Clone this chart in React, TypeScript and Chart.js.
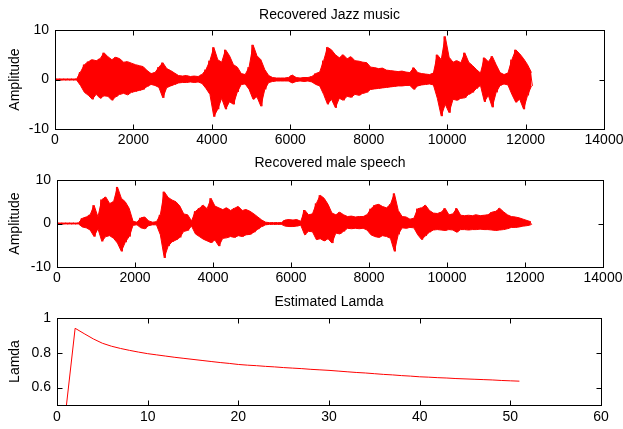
import React, { useEffect, useRef } from "react";
import { Chart, registerables } from "chart.js";

Chart.register(...registerables);

// ---- data ----
// waveforms: per 100-sample bin, the max and min amplitude
const BIN = 100;

const jazzMax = [
  0.1, 0.1, 0.1, 0.1, 0.1, 0.1, 1.5, 3.0, 3.6, 4.0,
  3.8, 4.2, 5.4, 4.6, 4.0, 4.5, 4.2, 3.5, 3.6, 3.3,
  3.0, 2.8, 2.6, 1.8, 1.2, 1.4, 2.5, 3.4, 2.2, 1.8,
  1.3, 0.8, 0.7, 0.8, 0.6, 0.7, 0.6, 1.0, 2.0, 3.8,
  6.5, 4.0, 3.5, 6.0, 4.8, 3.0, 2.5, 1.2, 1.0, 2.5,
  7.0, 4.8, 4.0, 2.0, 0.8, 0.4, 0.3, 0.3, 0.3, 0.4,
  0.9, 0.4, 0.3, 0.4, 0.4, 0.6, 1.2, 1.5, 3.8, 6.5,
  6.0, 5.0, 4.4, 5.0, 4.2, 4.6, 3.8, 3.7, 3.5, 3.4,
  2.5, 2.4, 2.2, 2.3, 1.9, 1.8, 1.7, 1.6, 1.7, 1.5,
  1.4, 2.4, 1.4, 1.2, 1.1, 1.0, 1.3, 5.0, 4.0, 8.7,
  4.5, 3.5, 3.8, 3.4, 5.4, 3.5, 2.8, 2.0, 1.3, 4.4,
  3.6, 4.7, 3.0, 1.4, 1.0, 1.3, 4.0, 6.0, 5.2, 4.2,
  3.0, 1.4,
];
const jazzMin = [
  -0.1, -0.1, -0.1, -0.1, -0.1, -0.1, -1.2, -2.6, -3.2, -4.0,
  -3.0, -3.8, -3.3, -3.4, -4.2, -3.5, -3.0, -2.8, -3.1, -2.6,
  -2.4, -2.2, -2.0, -1.4, -1.0, -1.2, -1.6, -3.7, -1.6, -1.3,
  -1.0, -0.7, -0.6, -0.6, -0.5, -0.6, -0.5, -0.8, -1.8, -3.0,
  -7.5, -6.0, -3.8, -6.0, -4.5, -5.0, -2.5, -1.0, -0.9, -2.0,
  -4.0, -3.5, -5.4, -2.0, -0.6, -0.4, -0.3, -0.3, -0.3, -0.3,
  -0.7, -0.4, -0.3, -0.4, -0.3, -0.5, -1.0, -1.3, -3.0, -5.0,
  -4.0, -5.7, -3.8, -4.2, -3.4, -3.6, -3.0, -3.2, -2.8, -2.6,
  -2.0, -1.9, -1.8, -1.7, -1.6, -1.5, -1.4, -1.3, -1.3, -1.2,
  -1.2, -2.0, -1.3, -1.1, -1.0, -0.9, -1.1, -3.8, -7.4, -5.0,
  -6.7, -4.0, -4.2, -3.8, -3.7, -3.0, -2.6, -1.8, -1.2, -4.5,
  -3.2, -5.6, -2.6, -1.2, -0.9, -1.1, -3.0, -4.6, -4.0, -6.0,
  -3.2, -1.3,
];

const speechMax = [
  0.1, 0.1, 0.1, 0.1, 0.1, 0.1, 1.2, 1.5, 2.0, 4.2,
  1.5, 5.5, 6.1, 4.6, 5.0, 8.4, 5.8, 5.0, 3.5, 0.5,
  0.3, 1.3, 1.5, 0.6, 0.3, 0.4, 2.0, 7.3, 6.0, 5.4,
  5.0, 4.0, 2.2, 2.0, 0.6, 2.8, 3.5, 4.2, 3.4, 5.8,
  4.0, 3.6, 3.2, 3.6, 3.0, 3.5, 3.9, 3.0, 3.2, 2.8,
  2.2, 1.5, 0.8, 0.3, 0.2, 0.2, 0.2, 0.2, 0.8, 0.9,
  0.8, 0.9, 0.5, 3.1, 2.0, 2.2, 4.6, 6.5, 5.8, 4.4,
  2.4, 2.0, 2.6, 2.0, 1.6, 1.7, 1.5, 1.6, 1.6, 2.0,
  3.4, 4.2, 4.4, 3.9, 3.6, 4.4, 6.9, 3.0, 1.6, 1.5,
  1.0, 1.2, 3.4, 3.6, 4.2, 3.0, 2.4, 2.3, 2.6, 3.5,
  2.0, 2.2, 3.5, 1.9, 1.8, 1.9, 1.8, 2.0, 1.8, 1.9,
  2.0, 2.6, 2.8, 3.5, 2.7, 2.0, 1.6, 1.5, 1.3, 1.0,
  0.7, 0.4,
];
const speechMin = [
  -0.1, -0.1, -0.1, -0.1, -0.1, -0.1, -0.8, -1.0, -1.5, -3.0,
  -1.2, -4.1, -3.0, -2.8, -3.4, -4.5, -6.4, -4.3, -3.0, -0.4,
  -0.3, -1.0, -1.2, -0.5, -0.3, -0.3, -2.6, -7.9, -5.2, -4.2,
  -3.8, -3.2, -1.8, -1.6, -0.6, -2.4, -3.0, -3.6, -4.0, -4.4,
  -3.8, -5.2, -3.4, -3.3, -3.0, -3.2, -2.8, -3.0, -2.6, -2.5,
  -2.0, -1.3, -0.7, -0.3, -0.2, -0.2, -0.2, -0.2, -0.6, -0.7,
  -0.7, -0.6, -0.4, -2.6, -1.8, -1.9, -3.7, -3.5, -4.0, -3.5,
  -4.5, -2.2, -2.4, -1.8, -1.1, -1.2, -1.1, -1.2, -1.1, -1.5,
  -2.6, -3.0, -3.2, -2.8, -3.0, -3.4, -6.4, -2.5, -1.0, -1.1,
  -0.9, -1.0, -2.6, -3.7, -2.8, -2.0, -1.5, -1.4, -1.5, -1.6,
  -1.4, -1.5, -2.0, -1.4, -1.4, -1.5, -1.4, -1.4, -1.3, -1.4,
  -1.4, -1.5, -1.6, -1.5, -1.4, -1.2, -0.9, -0.9, -0.8, -0.6,
  -0.5, -0.3,
];

const waveXTicks = [0, 2000, 4000, 6000, 8000, 10000, 12000, 14000];
const waveYTicks = [-10, 0, 10];

// estimated lambda per iteration (iterations 1..51)
const lamdaValues = [
  0.48, 0.941, 0.910, 0.880, 0.855, 0.838, 0.825, 0.814, 0.804, 0.795,
  0.788, 0.781, 0.774, 0.768, 0.762, 0.756, 0.750, 0.744, 0.739, 0.733,
  0.729, 0.726, 0.722, 0.719, 0.715, 0.712, 0.709, 0.705, 0.702, 0.699,
  0.695, 0.691, 0.687, 0.684, 0.680, 0.676, 0.673, 0.669, 0.666, 0.662,
  0.660, 0.657, 0.655, 0.652, 0.650, 0.648, 0.646, 0.644, 0.641, 0.639,
  0.637,
];
const lamdaXTicks = [0, 10, 20, 30, 40, 50, 60];
const lamdaYTicks = [0.6, 0.8, 1];

// ---- styling ----
const W = 623;
const H = 429;
const FONT = "'Liberation Sans', Arial, Helvetica, sans-serif";
const FS = 14;
const RED = "#ff0000";
const INK = "#000000";
const XH = 16;

type Pt = { x: number; y: number };

function envelope(vals: number[]): Pt[] {
  const pts: Pt[] = [{ x: 0, y: vals[0] }];
  for (let i = 0; i < vals.length; i++) {
    pts.push({ x: i * BIN + BIN / 2, y: vals[i] });
  }
  return pts;
}

function zigzag(maxs: number[], mins: number[]): Pt[] {
  const pts: Pt[] = [];
  for (let i = 0; i < maxs.length; i++) {
    pts.push({ x: i * BIN + BIN / 4, y: maxs[i] });
    pts.push({ x: i * BIN + (3 * BIN) / 4, y: mins[i] });
  }
  return pts;
}

function waveDatasets(maxs: number[], mins: number[]) {
  const common = {
    borderColor: RED,
    backgroundColor: RED,
    borderWidth: 1,
    pointRadius: 0,
    pointHoverRadius: 0,
    tension: 0,
  };
  return [
    { ...common, data: envelope(maxs), fill: "+1" },
    { ...common, data: envelope(mins), fill: false },
    { ...common, data: zigzag(maxs, mins), fill: false },
  ];
}

const boxPlugin = {
  id: "matlabBox",
  afterDraw(chart: any) {
    const { ctx, chartArea: a, scales } = chart;
    const L = Math.round(a.left) + 0.5;
    const R = Math.round(a.right) + 0.5;
    const T = Math.round(a.top) + 0.5;
    const B = Math.round(a.bottom) + 0.5;
    const len = 5;
    ctx.save();
    ctx.strokeStyle = INK;
    ctx.lineWidth = 1;
    ctx.strokeRect(L, T, R - L, B - T);
    ctx.beginPath();
    scales.x.ticks.forEach((t: any) => {
      const px = Math.round(scales.x.getPixelForValue(t.value)) + 0.5;
      ctx.moveTo(px, B);
      ctx.lineTo(px, B - len);
      ctx.moveTo(px, T);
      ctx.lineTo(px, T + len);
    });
    scales.y.ticks.forEach((t: any) => {
      const py = Math.round(scales.y.getPixelForValue(t.value)) + 0.5;
      ctx.moveTo(L, py);
      ctx.lineTo(L + len, py);
      ctx.moveTo(R, py);
      ctx.lineTo(R - len, py);
    });
    ctx.stroke();
    ctx.restore();
  },
};

interface Spec {
  datasets: any[];
  title: string;
  yTitle: string;
  area: { left: number; top: number; right: number; bottom: number };
  regionTop: number;
  titlePad: { top: number; bottom: number };
  xTickPad: number;
  xMin: number;
  xMax: number;
  xTicks: number[];
  yMin: number;
  yMax: number;
  yTicks: number[];
}

function makeConfig(s: Spec): any {
  const font = { family: FONT, size: FS, weight: "normal" as const };
  return {
    type: "line",
    data: { datasets: s.datasets },
    options: {
      animation: false,
      responsive: false,
      devicePixelRatio: 1,
      parsing: false,
      normalized: true,
      events: [],
      layout: {
        padding: {
          top: s.regionTop,
          left: 0,
          right: W - s.area.right,
          bottom: H - s.area.bottom - XH,
        },
      },
      plugins: {
        legend: { display: false },
        tooltip: { enabled: false },
        title: {
          display: true,
          text: s.title,
          fullSize: false,
          color: INK,
          font,
          padding: s.titlePad,
        },
      },
      scales: {
        x: {
          type: "linear",
          min: s.xMin,
          max: s.xMax,
          grid: { display: false, drawTicks: false },
          border: { display: false },
          afterBuildTicks: (sc: any) => {
            sc.ticks = s.xTicks.map((v) => ({ value: v }));
          },
          afterFit: (sc: any) => {
            sc.height = XH;
            sc.paddingLeft = 0;
            sc.paddingRight = 0;
          },
          ticks: {
            color: INK,
            font,
            padding: s.xTickPad,
            autoSkip: false,
            maxRotation: 0,
            minRotation: 0,
            callback: (v: number) => String(v),
          },
        },
        y: {
          type: "linear",
          min: s.yMin,
          max: s.yMax,
          grid: { display: false, drawTicks: false },
          border: { display: false },
          afterBuildTicks: (sc: any) => {
            sc.ticks = s.yTicks.map((v) => ({ value: v }));
          },
          afterFit: (sc: any) => {
            sc.width = s.area.left;
            sc.paddingTop = 0;
            sc.paddingBottom = 0;
          },
          title: {
            display: true,
            text: s.yTitle,
            color: INK,
            font,
            padding: { top: 6.45, bottom: 0 },
          },
          ticks: {
            color: INK,
            font,
            padding: 6,
            autoSkip: false,
            callback: (v: number) => String(v),
          },
        },
      },
    },
    plugins: [boxPlugin],
  };
}

export default function App() {
  const c1 = useRef<HTMLCanvasElement>(null);
  const c2 = useRef<HTMLCanvasElement>(null);
  const c3 = useRef<HTMLCanvasElement>(null);

  useEffect(() => {
    const charts: Chart[] = [];
    charts.push(
      new Chart(
        c1.current!,
        makeConfig({
          datasets: waveDatasets(jazzMax, jazzMin),
          title: "Recovered Jazz music",
          yTitle: "Amplitude",
          area: { left: 55, top: 30, right: 604, bottom: 129 },
          regionTop: 0,
          titlePad: { top: 6.75, bottom: 6.45 },
          xTickPad: 2.6,
          xMin: 0,
          xMax: 14000,
          xTicks: waveXTicks,
          yMin: -10,
          yMax: 10,
          yTicks: waveYTicks,
        })
      )
    );
    charts.push(
      new Chart(
        c2.current!,
        makeConfig({
          datasets: waveDatasets(speechMax, speechMin),
          title: "Recovered male speech",
          yTitle: "Amplitude",
          area: { left: 57, top: 180, right: 603, bottom: 267 },
          regionTop: 145,
          titlePad: { top: 10.05, bottom: 8.15 },
          xTickPad: 2.9,
          xMin: 0,
          xMax: 14000,
          xTicks: waveXTicks,
          yMin: -10,
          yMax: 10,
          yTicks: waveYTicks,
        })
      )
    );
    charts.push(
      new Chart(
        c3.current!,
        makeConfig({
          datasets: [
            {
              data: lamdaValues.map((v, i) => ({ x: i + 1, y: v })),
              borderColor: RED,
              backgroundColor: RED,
              borderWidth: 1,
              pointRadius: 0,
              pointHoverRadius: 0,
              fill: false,
              tension: 0,
            },
          ],
          title: "Estimated Lamda",
          yTitle: "Lamda",
          area: { left: 57, top: 318, right: 601, bottom: 405 },
          regionTop: 285,
          titlePad: { top: 8.45, bottom: 7.75 },
          xTickPad: 4,
          xMin: 0,
          xMax: 60,
          xTicks: lamdaXTicks,
          yMin: 0.5,
          yMax: 1,
          yTicks: lamdaYTicks,
        })
      )
    );
    return () => charts.forEach((c) => c.destroy());
  }, []);

  const cs: React.CSSProperties = {
    position: "absolute",
    left: 0,
    top: 0,
    width: W,
    height: H,
  };
  return (
    <div
      style={{
        position: "fixed",
        left: 0,
        top: 0,
        width: W,
        height: H,
        background: "#ffffff",
        overflow: "hidden",
      }}
    >
      <canvas ref={c1} width={W} height={H} style={cs} />
      <canvas ref={c2} width={W} height={H} style={cs} />
      <canvas ref={c3} width={W} height={H} style={cs} />
    </div>
  );
}
